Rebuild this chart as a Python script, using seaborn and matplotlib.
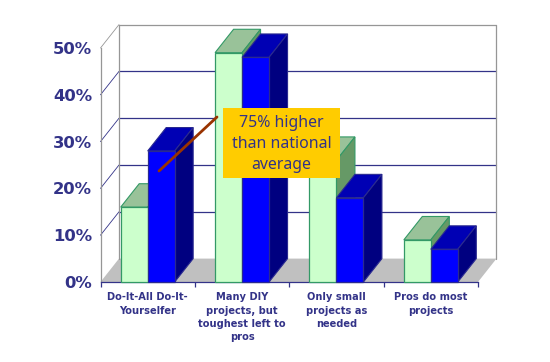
import pandas as pd
import seaborn as sns
import matplotlib.pyplot as plt
from matplotlib.patches import Polygon, Rectangle
from matplotlib.lines import Line2D

categories = ['Do-It-All Do-It-\nYourselfer', 'Many DIY\nprojects, but\ntoughest left to\npros',
              'Only small\nprojects as\nneeded', 'Pros do most\nprojects']
national = [16, 49, 26, 9]
segment = [28, 48, 18, 7]
y_ticks = [0, 10, 20, 30, 40, 50]
y_labels = ['0%', '10%', '20%', '30%', '40%', '50%']

TEXT = '#333388'
GRID = '#333388'
WALL = '#969696'
# 3d offset of the fake depth, in data units
DX = 0.196
DY = 5.0

sns.set_theme(style='white')
plt.rcParams['font.family'] = ['DejaVu Sans']

W, H = 550, 362
fig = plt.figure(figsize=(W / 100, H / 100), dpi=100, facecolor='white')
ax = fig.add_axes([100.5 / W, (H - 282) / H, (478 - 100.5) / W, (282 - 48) / H])

df = pd.DataFrame({
    'category': categories * 2,
    'share': national + segment,
    'series': ['National'] * 4 + ['Segment'] * 4,
})
sns.barplot(data=df, x='category', y='share', hue='series', ax=ax, legend=False,
            palette=['#CCFFCC', '#0000FF'], width=0.572, gap=0, saturation=1)
ax.set_xlim(-0.5, 3.5)
ax.set_ylim(0, 50)


def poly(pts, fc, ec, z):
    ax.add_patch(Polygon(pts, closed=True, fc=fc, ec=ec, lw=0.8, zorder=z, clip_on=False))


# walls and floor
poly([(-0.5, 0), (3.5, 0), (3.5 + DX, DY), (-0.5 + DX, DY)], '#C0C0C0', 'none', 0.5)
for t in y_ticks[1:]:
    c = WALL if t == 50 else GRID
    ax.plot([-0.5, -0.5 + DX], [t, t + DY], color=c, lw=0.6, zorder=0.6, clip_on=False)
    ax.plot([-0.5 + DX, 3.5 + DX], [t + DY, t + DY], color=c, lw=0.9,
            zorder=0.6, clip_on=False)
for x0, y0, y1 in [(-0.5 + DX, DY, 50 + DY), (3.5 + DX, DY, 50 + DY)]:
    ax.plot([x0, x0], [y0, y1], color=WALL, lw=0.9, zorder=0.6, clip_on=False)

# faces of the bars, taken from what seaborn drew
styles = [('#99C299', '#669966', '#339966'), ('#0000B4', '#000080', '#2A2A90')]
n = len(categories)
for i, bar in enumerate(ax.patches[:2 * n]):
    s = i // n
    top_c, side_c, edge = styles[s]
    x0, x1, h = bar.get_x(), bar.get_x() + bar.get_width(), bar.get_height()
    z = 2 + 2 * s
    bar.set_edgecolor(edge)
    bar.set_linewidth(0.9)
    bar.set_zorder(z + 1)
    bar.set_clip_on(False)
    poly([(x0, h), (x1, h), (x1 + DX, h + DY), (x0 + DX, h + DY)], top_c, edge, z)
    poly([(x1, 0), (x1 + DX, DY), (x1 + DX, h + DY), (x1, h)], side_c, edge, z)

ax.set_xlabel('')
ax.set_ylabel('')
ax.set_yticks(y_ticks, y_labels)
ax.set_xticks([-0.5, 0.5, 1.5, 2.5, 3.5], [''] * 5)
ax.tick_params(axis='y', length=3, width=0.9, color=WALL, pad=3, labelsize=11.8, labelcolor=TEXT)
ax.tick_params(axis='x', length=3.5, width=0.9, color=GRID, bottom=True)
for lab in ax.get_yticklabels():
    lab.set_fontweight('bold')
for i, c in enumerate(categories):
    ax.annotate(c, (i, 0), xytext=(0, -7.5), textcoords='offset points', ha='center', va='top',
                fontsize=7.1, fontweight='bold', color=TEXT, linespacing=1.42, annotation_clip=False)
sns.despine(ax=ax, top=True, right=True)
ax.spines['left'].set_color(WALL)
ax.spines['left'].set_linewidth(0.9)
ax.spines['bottom'].set_color(GRID)
ax.spines['bottom'].set_linewidth(0.9)
ax.set_zorder(1)
ax.patch.set_visible(False)


def px(x, y):
    return x / W, (H - y) / H


# callout on top of everything
fig.add_artist(Line2D(*zip(px(159, 171), px(217, 117)), color='#993300', lw=2,
                      transform=fig.transFigure, zorder=5))
fig.add_artist(Rectangle(px(223, 177.5), 117 / W, 69.5 / H, fc='#FFCC00', ec='none',
                         transform=fig.transFigure, zorder=6))
fig.text(*px(281.5, 144), '75% higher\nthan national\naverage', ha='center', va='center',
         fontsize=11.4, color=TEXT, family='Noto Sans', linespacing=1.4, zorder=7)

fig.savefig('out.png', dpi=100)
